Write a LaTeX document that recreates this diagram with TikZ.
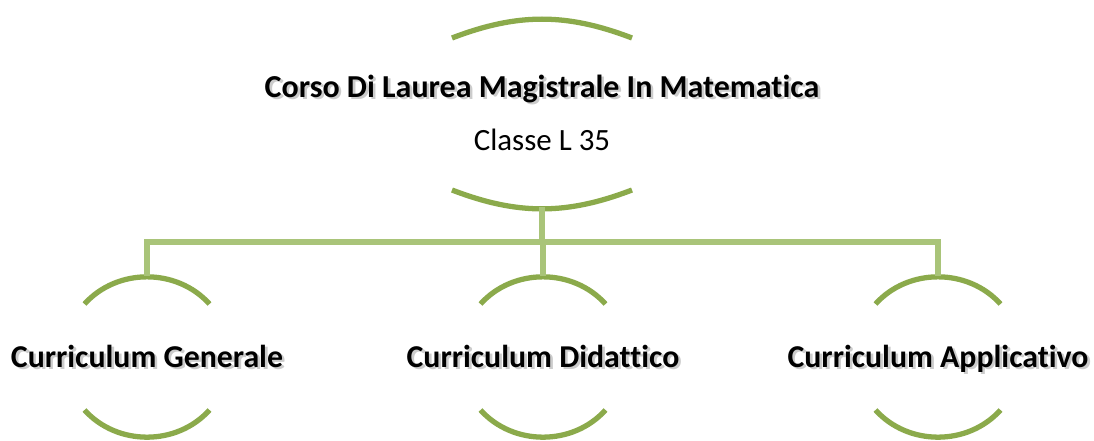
\documentclass[tikz,border=0pt]{standalone}
\usepackage{fontspec}
\setmainfont{Carlito}[Ligatures={NoCommon}]
\usepackage{xcolor}
\usetikzlibrary{calc}
\definecolor{rimgreen}{RGB}{139,170,75}
\definecolor{linkgreen}{RGB}{169,196,121}
\newcommand{\shtext}[1]{\makebox[0pt][l]{\hspace{1.5pt}\raisebox{-1.5pt}{\textcolor{black!20}{#1}}}#1}

\begin{document}
\begin{tikzpicture}[
  every node/.style={inner sep=0pt, anchor=base},
  title/.style={font=\fontsize{18.2}{22}\selectfont\bfseries},
  sub/.style={font=\fontsize{17.6}{21}\selectfont},
  leaf/.style={font=\fontsize{18.1}{22}\selectfont\bfseries},
  rim/.style={draw=rimgreen, line width=3pt},
  link/.style={draw=linkgreen, line width=3pt},
]
\useasboundingbox (0,0) rectangle (21.88,-8.8);

%% Root
\node[title] (root) at (10.84,-1.94) {\shtext{Corso Di Laurea Magistrale In Matematica}};
\node[sub] (cls) at (10.84,-3.0) {Classe L 35};
\draw[rim] (9.04,-0.76) to[bend left=21] (12.64,-0.76);
\draw[rim] (9.04,-3.80) to[bend right=21] (12.64,-3.80);
\coordinate (rootbot) at (10.84,-4.14);

%% Curricula
\node[leaf] (g) at (2.94,-7.34)  {\shtext{Curriculum Generale}};
\node[leaf] (d) at (10.86,-7.34) {\shtext{Curriculum Didattico}};
\node[leaf] (a) at (18.76,-7.34) {\shtext{Curriculum Applicativo}};

\foreach \c in {g,d,a} {
  \coordinate (\c top) at ($(\c.base)+(0,1.82)$);
  \draw[rim] ($(\c.base)+(-1.25,1.26)$) to[bend left=48] ($(\c.base)+(1.25,1.26)$);
  \draw[rim] ($(\c.base)+(-1.25,-0.86)$) to[bend right=48] ($(\c.base)+(1.25,-0.86)$);
}

%% Connectors
\foreach \c in {g,d,a} {
  \draw[link] (rootbot) -- ++(0,-0.7) -| (\c top);
}

\end{tikzpicture}
\end{document}
